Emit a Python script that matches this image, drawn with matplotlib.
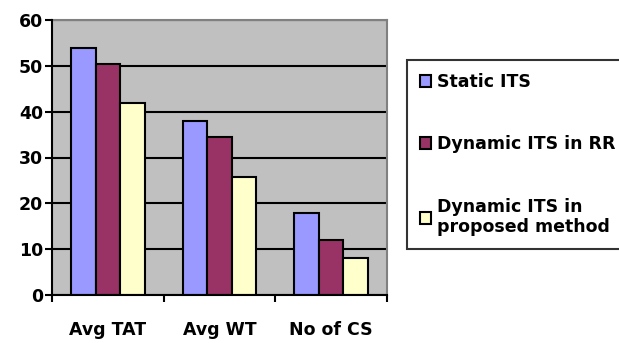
import matplotlib.pyplot as plt
import numpy as np

categories = ['Avg TAT', 'Avg WT', 'No of CS']
series = ['Static ITS', 'Dynamic ITS in RR', 'Dynamic ITS in\nproposed method']
static_its = [54, 38, 18]
dynamic_rr = [50.4, 34.4, 12]
dynamic_proposed = [41.8, 25.8, 8]
colors = ['#9999FF', '#993366', '#FFFFCC']

plt.rcParams['font.family'] = ['DejaVu Sans']
plt.rcParams['font.weight'] = 'bold'
fs = 12.5

fig = plt.figure(figsize=(6.19, 3.43), dpi=100)
ax = fig.add_axes([52 / 619, 48 / 343, 335 / 619, 275 / 343])
ax.set_facecolor('#C0C0C0')

x = np.arange(len(categories))
w = 0.22
handles = []
for i, (vals, c) in enumerate(zip([static_its, dynamic_rr, dynamic_proposed], colors)):
    h = ax.bar(x + (i - 1) * w, vals, w, color=c, edgecolor='black',
               linewidth=1.5, zorder=3, label=series[i])
    handles.append(h)

ax.set_xlim(-0.5, 2.5)
ax.set_ylim(0, 60)
ax.set_yticks(range(0, 61, 10))
ax.yaxis.grid(True, color='black', linewidth=1.5, zorder=1)
ax.set_axisbelow(True)

ax.set_xticks([-0.5, 0.5, 1.5, 2.5])
ax.set_xticklabels([])
ax.set_xticks(x, minor=True)
ax.set_xticklabels(categories, minor=True, fontsize=fs, fontweight='bold')
ax.tick_params(axis='x', which='minor', length=0, pad=19)
ax.tick_params(axis='x', which='major', length=5, width=1.5, direction='out')
ax.tick_params(axis='y', length=5, width=1.5, direction='out', labelsize=fs, pad=1.5)
for lbl in ax.get_yticklabels():
    lbl.set_fontweight('bold')

for s in ['top', 'right']:
    ax.spines[s].set_color('#808080')
    ax.spines[s].set_linewidth(1.5)
for s in ['left', 'bottom']:
    ax.spines[s].set_color('black')
    ax.spines[s].set_linewidth(1.5)
    ax.spines[s].set_zorder(4)

leg = fig.legend(handles=handles, loc='upper left',
                 bbox_to_anchor=(407 / 619, 1 - 60 / 343),
                 frameon=True, fancybox=False, edgecolor='black',
                 fontsize=fs, handlelength=0.65, handleheight=0.65,
                 handletextpad=0.3, labelspacing=2.55, borderpad=0.75,
                 borderaxespad=0)
leg.get_frame().set_linewidth(1.5)
for t in leg.get_texts():
    t.set_fontweight('bold')

fig.savefig('out.png', dpi=100)
